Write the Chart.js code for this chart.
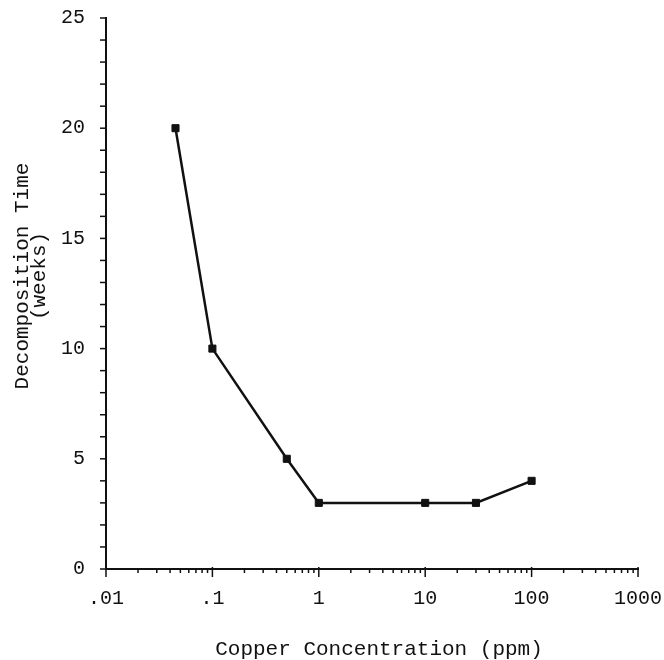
<!DOCTYPE html>
<html>
<head>
<meta charset="utf-8">
<script src="https://cdn.jsdelivr.net/npm/chart.js@4/dist/chart.umd.min.js"></script>
<style>
    html, body { margin: 0; padding: 0; background: #fff; }
    canvas { display: block; }
</style>
</head>
<body>
<canvas id="grafico" width="664" height="660"></canvas>
<script>
const concentracoes = [0.045, 0.1, 0.5, 1, 10, 30, 100];
const semanas = [20, 10, 5, 3, 3, 3, 4];
const decadas = [0.01, 0.1, 1, 10, 100, 1000];
const rotulosX = ['.01', '.1', '1', '10', '100', '1000'];
const multiplosMenores = [2, 3, 4, 5, 6, 7, 8, 9];
const tituloX = 'Copper Concentration (ppm)';
const tituloY = ['Decomposition Time', '(weeks)'];

const FONTE = "'Liberation Mono', 'Courier New', monospace";
const TINTA = '#111';

function ticksX() {
    const lista = [];
    decadas.forEach((d, i) => {
        lista.push({ value: d, major: true });
        if (i < decadas.length - 1) {
            multiplosMenores.forEach(m => lista.push({ value: +(d * m).toPrecision(3), major: false }));
        }
    });
    return lista;
}

const marcasEixos = {
    id: 'marcasEixos',
    afterDraw(chart) {
        const { ctx, scales: { x, y } } = chart;
        ctx.save();
        ctx.strokeStyle = TINTA;
        ctx.lineWidth = 1.5;
        const base = y.getPixelForValue(0);
        x.ticks.forEach(t => {
            const px = x.getPixelForValue(t.value);
            const len = t.major ? 8 : 4;
            ctx.beginPath();
            ctx.moveTo(px, base - (t.major ? 2 : 0));
            ctx.lineTo(px, base + len);
            ctx.stroke();
        });
        const eixo = x.getPixelForValue(0.01);
        y.ticks.forEach(t => {
            const py = y.getPixelForValue(t.value);
            ctx.beginPath();
            ctx.moveTo(eixo - 6, py);
            ctx.lineTo(eixo, py);
            ctx.stroke();
        });

        ctx.fillStyle = TINTA;
        ctx.font = '21px ' + FONTE;
        ctx.textAlign = 'center';
        ctx.textBaseline = 'alphabetic';
        ctx.fillText(tituloX, 379, 655);

        ctx.translate(0, 276);
        ctx.rotate(-Math.PI / 2);
        ctx.font = '21px ' + FONTE;
        ctx.fillText(tituloY[0], 0, 28);
        ctx.fillText(tituloY[1], 0, 45);
        ctx.restore();
    }
};

new Chart(document.getElementById('grafico'), {
    type: 'line',
    data: {
        datasets: [{
            data: concentracoes.map((c, i) => ({ x: c, y: semanas[i] })),
            borderColor: TINTA,
            borderWidth: 2.5,
            pointStyle: 'rect',
            pointRadius: 5,
            pointBackgroundColor: TINTA,
            pointBorderColor: TINTA,
            pointBorderWidth: 1,
            tension: 0,
            clip: false
        }]
    },
    options: {
        responsive: false,
        animation: false,
        events: [],
        layout: { padding: { top: 18, right: 26, left: 0, bottom: 0 } },
        plugins: { legend: { display: false }, tooltip: { enabled: false } },
        scales: {
            x: {
                type: 'logarithmic',
                min: 0.01,
                max: 1000,
                afterBuildTicks(scale) { scale.ticks = ticksX(); },
                afterFit(scale) {
                    scale.height = 91;
                    scale.paddingLeft = 0;
                    scale.paddingRight = 0;
                },
                grid: { display: false, drawTicks: false },
                border: { display: true, color: TINTA, width: 2 },
                ticks: {
                    autoSkip: false,
                    maxRotation: 0,
                    padding: 18,
                    color: TINTA,
                    font: { family: FONTE, size: 20 },
                    callback(valor) {
                        const i = decadas.findIndex(d => Math.abs(d - valor) < d * 1e-6);
                        return i >= 0 ? rotulosX[i] : '';
                    }
                }
            },
            y: {
                min: 0,
                max: 25,
                afterFit(scale) {
                    scale.width = 106;
                    scale.paddingTop = 0;
                    scale.paddingBottom = 0;
                },
                grid: { display: false, drawTicks: false },
                border: { display: true, color: TINTA, width: 2 },
                ticks: {
                    stepSize: 1,
                    autoSkip: false,
                    padding: 21,
                    color: TINTA,
                    font: { family: FONTE, size: 20 },
                    callback: (valor) => (valor % 5 === 0 ? String(valor) : '')
                }
            }
        }
    },
    plugins: [marcasEixos]
});
</script>
</body>
</html>
